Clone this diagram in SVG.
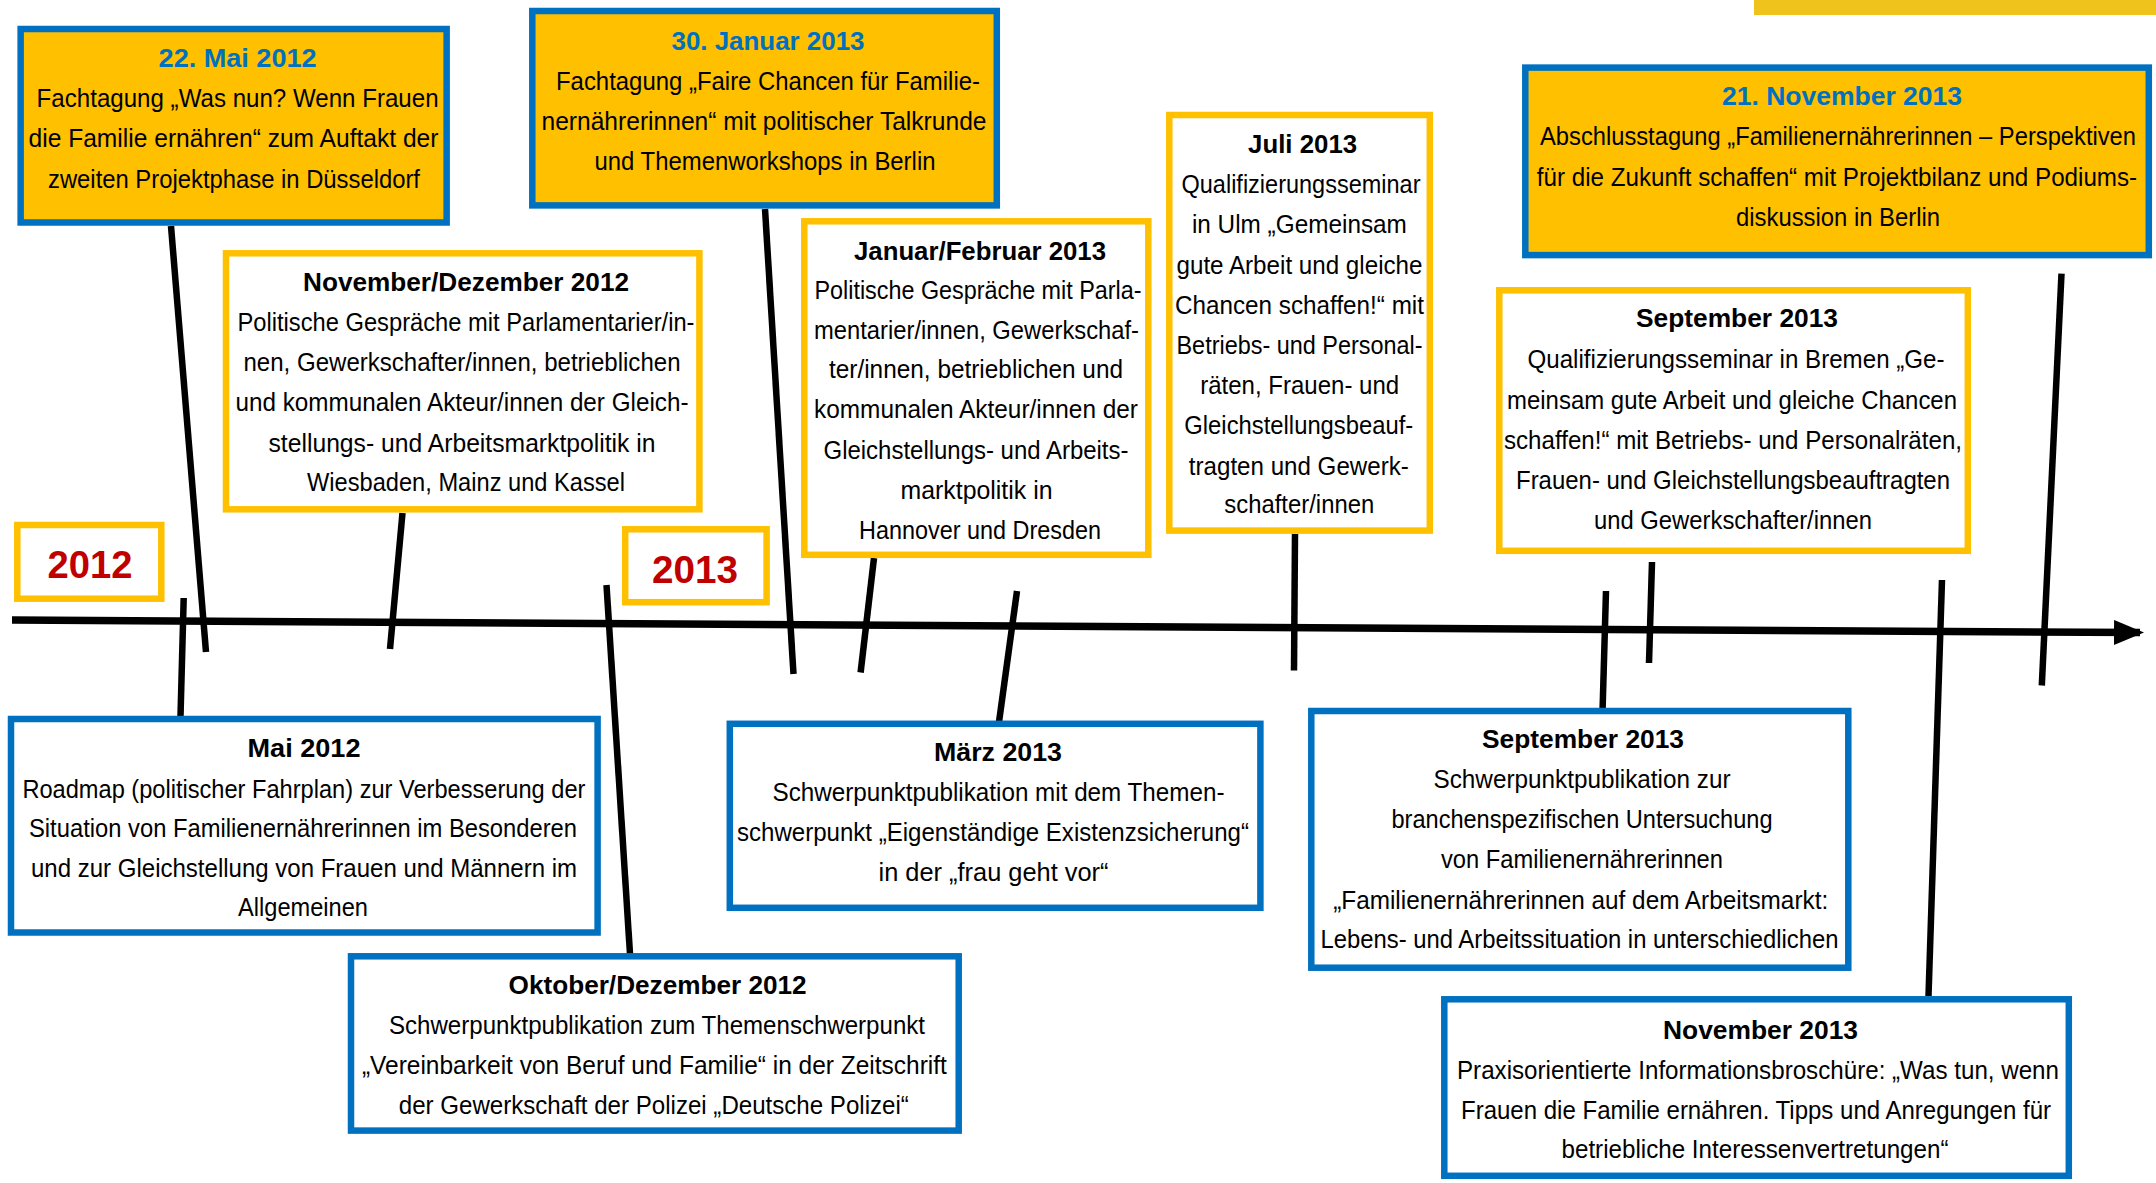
<svg xmlns="http://www.w3.org/2000/svg" width="2156" height="1183" viewBox="0 0 2156 1183">
<style>
.bg{fill:#ffffff}
.ev{fill:#FFC000;stroke:#0070C0;stroke-width:6.5}
.pol{fill:#ffffff;stroke:#FFC000;stroke-width:6.5}
.pub{fill:#ffffff;stroke:#0070C0;stroke-width:6.5}
.yr{fill:#ffffff;stroke:#FFC000;stroke-width:6.5}
.ln{stroke:#000;stroke-width:6.5;fill:none;stroke-linecap:butt}
.tl{stroke:#000;stroke-width:7.5;fill:none}
text{font-family:"Liberation Sans Narrow","Liberation Sans",Arial,sans-serif;font-size:26px;text-anchor:middle;fill:#000}
.h{font-weight:bold}
.d{font-weight:bold;fill:#0070C0}
.y{font-weight:bold;fill:#C00000;font-size:39px;font-family:"Liberation Sans",Arial,sans-serif}
</style>
<defs>
<marker id="arr" markerUnits="userSpaceOnUse" markerWidth="32" markerHeight="28" refX="26" refY="12.5" orient="auto">
<path d="M0,0 L30,12.5 L0,25 Z" fill="#000"/>
</marker>
</defs>
<rect class="bg" x="0" y="0" width="2156" height="1183"/>
<rect x="1754" y="0" width="402" height="15" fill="#F0C21C"/>

<g id="connectors">
<line class="tl" x1="12" y1="620" x2="2140" y2="632.6" marker-end="url(#arr)"/>
<line class="ln" x1="171" y1="226" x2="206" y2="652"/>
<line class="ln" x1="402.5" y1="513" x2="390" y2="649"/>
<line class="ln" x1="183.7" y1="598" x2="180.5" y2="716"/>
<line class="ln" x1="606.5" y1="585" x2="630" y2="954"/>
<line class="ln" x1="765" y1="209" x2="793.5" y2="674"/>
<line class="ln" x1="874" y1="558" x2="860.6" y2="672.5"/>
<line class="ln" x1="1017" y1="591" x2="999" y2="722"/>
<line class="ln" x1="1295" y1="534" x2="1294" y2="670.6"/>
<line class="ln" x1="2061.5" y1="273.6" x2="2041.8" y2="685.5"/>
<line class="ln" x1="1652" y1="562" x2="1649" y2="663"/>
<line class="ln" x1="1606" y1="591" x2="1602.6" y2="709"/>
<line class="ln" x1="1942" y1="580" x2="1928.5" y2="996"/>
</g>

<g id="year2012">
<rect class="yr" x="17.3" y="525" width="144" height="73.7"/>
<text class="y" x="90" y="578.4" textLength="85" lengthAdjust="spacingAndGlyphs">2012</text>
</g>
<g id="year2013">
<rect class="yr" x="625.2" y="529.3" width="141.4" height="72.9"/>
<text class="y" x="695" y="582.8" textLength="86" lengthAdjust="spacingAndGlyphs">2013</text>
</g>

<g id="mai2012-fachtagung">
<rect class="ev" x="20.65" y="29" width="426" height="193.5"/>
<text class="d" x="237.6" y="67" textLength="158" lengthAdjust="spacingAndGlyphs">22. Mai 2012</text>
<text x="237.6" y="107" textLength="402" lengthAdjust="spacingAndGlyphs">Fachtagung „Was nun? Wenn Frauen</text>
<text x="233.5" y="147" textLength="410" lengthAdjust="spacingAndGlyphs">die Familie ernähren“ zum Auftakt der</text>
<text x="234" y="187.5" textLength="372" lengthAdjust="spacingAndGlyphs">zweiten Projektphase in Düsseldorf</text>
</g>

<g id="jan2013-fachtagung">
<rect class="ev" x="532.3" y="11" width="464.5" height="194.4"/>
<text class="d" x="768" y="49.8" textLength="193" lengthAdjust="spacingAndGlyphs">30. Januar 2013</text>
<text x="768" y="90" textLength="424" lengthAdjust="spacingAndGlyphs">Fachtagung „Faire Chancen für Familie-</text>
<text x="764" y="130" textLength="445" lengthAdjust="spacingAndGlyphs">nernährerinnen“ mit politischer Talkrunde</text>
<text x="765" y="170" textLength="341" lengthAdjust="spacingAndGlyphs">und Themenworkshops in Berlin</text>
</g>

<g id="novdez2012">
<rect class="pol" x="226" y="253.3" width="473.4" height="256"/>
<text class="h" x="466" y="291" textLength="326" lengthAdjust="spacingAndGlyphs">November/Dezember 2012</text>
<text x="466" y="330.5" textLength="457" lengthAdjust="spacingAndGlyphs">Politische Gespräche mit Parlamentarier/in-</text>
<text x="462" y="371" textLength="437" lengthAdjust="spacingAndGlyphs">nen, Gewerkschafter/innen, betrieblichen</text>
<text x="462" y="411" textLength="453" lengthAdjust="spacingAndGlyphs">und kommunalen Akteur/innen der Gleich-</text>
<text x="462" y="451.5" textLength="387" lengthAdjust="spacingAndGlyphs">stellungs- und Arbeitsmarktpolitik in</text>
<text x="466" y="491" textLength="318" lengthAdjust="spacingAndGlyphs">Wiesbaden, Mainz und Kassel</text>
</g>

<g id="janfeb2013">
<rect class="pol" x="804.3" y="221.3" width="344" height="333.5"/>
<text class="h" x="980" y="259.5" textLength="252" lengthAdjust="spacingAndGlyphs">Januar/Februar 2013</text>
<text x="978" y="298.5" textLength="327" lengthAdjust="spacingAndGlyphs">Politische Gespräche mit Parla-</text>
<text x="976.5" y="338.7" textLength="325" lengthAdjust="spacingAndGlyphs">mentarier/innen, Gewerkschaf-</text>
<text x="976" y="378.3" textLength="294" lengthAdjust="spacingAndGlyphs">ter/innen, betrieblichen und</text>
<text x="976" y="418.3" textLength="324" lengthAdjust="spacingAndGlyphs">kommunalen Akteur/innen der</text>
<text x="976" y="458.5" textLength="305" lengthAdjust="spacingAndGlyphs">Gleichstellungs- und Arbeits-</text>
<text x="976.5" y="498.6" textLength="152" lengthAdjust="spacingAndGlyphs">marktpolitik in</text>
<text x="980" y="538.8" textLength="242" lengthAdjust="spacingAndGlyphs">Hannover und Dresden</text>
</g>

<g id="juli2013">
<rect class="pol" x="1169.3" y="115" width="260.5" height="415.6"/>
<text class="h" x="1302.6" y="153" textLength="109" lengthAdjust="spacingAndGlyphs">Juli 2013</text>
<text x="1301" y="193" textLength="239" lengthAdjust="spacingAndGlyphs">Qualifizierungsseminar</text>
<text x="1299.4" y="233.4" textLength="215" lengthAdjust="spacingAndGlyphs">in Ulm „Gemeinsam</text>
<text x="1299.5" y="273.6" textLength="246" lengthAdjust="spacingAndGlyphs">gute Arbeit und gleiche</text>
<text x="1299.5" y="313.5" textLength="249" lengthAdjust="spacingAndGlyphs">Chancen schaffen!“ mit</text>
<text x="1299.5" y="354" textLength="246" lengthAdjust="spacingAndGlyphs">Betriebs- und Personal-</text>
<text x="1299.7" y="394" textLength="199" lengthAdjust="spacingAndGlyphs">räten, Frauen- und</text>
<text x="1298.8" y="434" textLength="229" lengthAdjust="spacingAndGlyphs">Gleichstellungsbeauf-</text>
<text x="1298.8" y="474.5" textLength="220" lengthAdjust="spacingAndGlyphs">tragten und Gewerk-</text>
<text x="1299.3" y="513" textLength="150" lengthAdjust="spacingAndGlyphs">schafter/innen</text>
</g>

<g id="nov2013-abschlusstagung">
<rect class="ev" x="1525.3" y="67.6" width="623.5" height="187.5"/>
<text class="d" x="1842" y="105" textLength="240" lengthAdjust="spacingAndGlyphs">21. November 2013</text>
<text transform="translate(1838 145.4) scale(0.86 1)" x="0" y="0" textLength="693" lengthAdjust="spacingAndGlyphs">Abschlusstagung „Familienernährerinnen – Perspektiven</text>
<text transform="translate(1837 185.6) scale(0.86 1)" x="0" y="0" textLength="698" lengthAdjust="spacingAndGlyphs">für die Zukunft schaffen“ mit Projektbilanz und Podiums-</text>
<text x="1838" y="225.8" textLength="204" lengthAdjust="spacingAndGlyphs">diskussion in Berlin</text>
</g>

<g id="sep2013-seminar">
<rect class="pol" x="1499.3" y="290.3" width="468.5" height="260.5"/>
<text class="h" x="1737" y="327.2" textLength="202" lengthAdjust="spacingAndGlyphs">September 2013</text>
<text x="1736" y="368" textLength="417" lengthAdjust="spacingAndGlyphs">Qualifizierungsseminar in Bremen „Ge-</text>
<text x="1732" y="408.7" textLength="450" lengthAdjust="spacingAndGlyphs">meinsam gute Arbeit und gleiche Chancen</text>
<text x="1733" y="448.5" textLength="458" lengthAdjust="spacingAndGlyphs">schaffen!“ mit Betriebs- und Personalräten,</text>
<text x="1733" y="489" textLength="434" lengthAdjust="spacingAndGlyphs">Frauen- und Gleichstellungsbeauftragten</text>
<text x="1733" y="529" textLength="278" lengthAdjust="spacingAndGlyphs">und Gewerkschafter/innen</text>
</g>

<g id="mai2012-roadmap">
<rect class="pub" x="11" y="719" width="586.6" height="213.5"/>
<text class="h" x="304" y="757" textLength="113" lengthAdjust="spacingAndGlyphs">Mai 2012</text>
<text x="303.9" y="797.5" textLength="563" lengthAdjust="spacingAndGlyphs">Roadmap (politischer Fahrplan) zur Verbesserung der</text>
<text x="303" y="836.7" textLength="548" lengthAdjust="spacingAndGlyphs">Situation von Familienernährerinnen im Besonderen</text>
<text x="304" y="876.8" textLength="546" lengthAdjust="spacingAndGlyphs">und zur Gleichstellung von Frauen und Männern im</text>
<text x="303" y="916" textLength="130" lengthAdjust="spacingAndGlyphs">Allgemeinen</text>
</g>

<g id="oktdez2012">
<rect class="pub" x="351" y="956.3" width="607.7" height="174.3"/>
<text class="h" x="657.6" y="994.4" textLength="298" lengthAdjust="spacingAndGlyphs">Oktober/Dezember 2012</text>
<text x="657" y="1033.6" textLength="536" lengthAdjust="spacingAndGlyphs">Schwerpunktpublikation zum Themenschwerpunkt</text>
<text x="654.4" y="1074" textLength="585" lengthAdjust="spacingAndGlyphs">„Vereinbarkeit von Beruf und Familie“ in der Zeitschrift</text>
<text x="653.8" y="1114" textLength="510" lengthAdjust="spacingAndGlyphs">der Gewerkschaft der Polizei „Deutsche Polizei“</text>
</g>

<g id="maerz2013">
<rect class="pub" x="729.8" y="723.8" width="530.6" height="184"/>
<text class="h" x="998" y="760.6" textLength="128" lengthAdjust="spacingAndGlyphs">März 2013</text>
<text x="998.5" y="800.8" textLength="452" lengthAdjust="spacingAndGlyphs">Schwerpunktpublikation mit dem Themen-</text>
<text x="993" y="841" textLength="512" lengthAdjust="spacingAndGlyphs">schwerpunkt „Eigenständige Existenzsicherung“</text>
<text x="993.5" y="880.7" textLength="230" lengthAdjust="spacingAndGlyphs">in der „frau geht vor“</text>
</g>

<g id="sep2013-publikation">
<rect class="pub" x="1311.3" y="711" width="537" height="256.7"/>
<text class="h" x="1583" y="748" textLength="202" lengthAdjust="spacingAndGlyphs">September 2013</text>
<text x="1582" y="787.8" textLength="297" lengthAdjust="spacingAndGlyphs">Schwerpunktpublikation zur</text>
<text x="1582" y="827.5" textLength="381" lengthAdjust="spacingAndGlyphs">branchenspezifischen Untersuchung</text>
<text x="1582" y="867.7" textLength="282" lengthAdjust="spacingAndGlyphs">von Familienernährerinnen</text>
<text x="1580.7" y="908.6" textLength="495" lengthAdjust="spacingAndGlyphs">„Familienernährerinnen auf dem Arbeitsmarkt:</text>
<text x="1579.5" y="947.6" textLength="518" lengthAdjust="spacingAndGlyphs">Lebens- und Arbeitssituation in unterschiedlichen</text>
</g>

<g id="nov2013-broschuere">
<rect class="pub" x="1444.3" y="999.3" width="624.5" height="176.5"/>
<text class="h" x="1760.5" y="1038.7" textLength="195" lengthAdjust="spacingAndGlyphs">November 2013</text>
<text x="1758" y="1078.9" textLength="602" lengthAdjust="spacingAndGlyphs">Praxisorientierte Informationsbroschüre: „Was tun, wenn</text>
<text x="1756" y="1118.7" textLength="590" lengthAdjust="spacingAndGlyphs">Frauen die Familie ernähren. Tipps und Anregungen für</text>
<text x="1755" y="1157.7" textLength="387" lengthAdjust="spacingAndGlyphs">betriebliche Interessenvertretungen“</text>
</g>
</svg>
